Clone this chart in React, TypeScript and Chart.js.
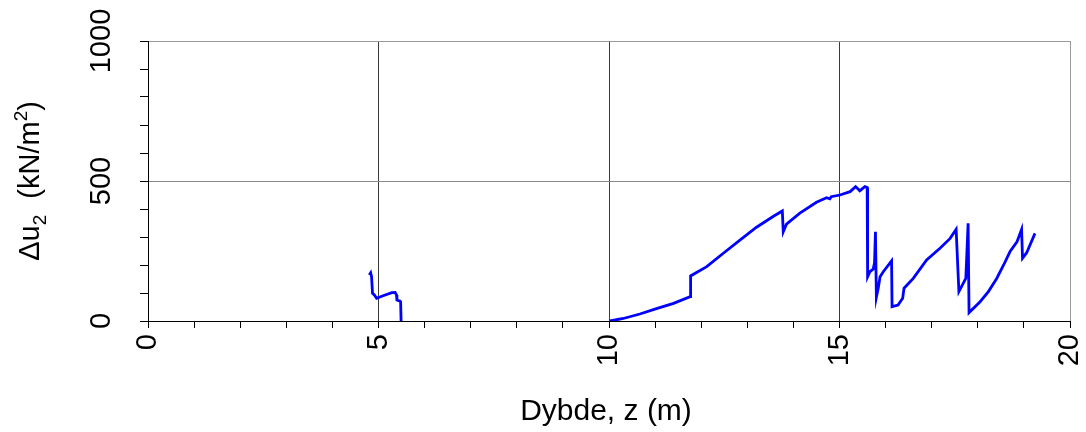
import { useEffect, useRef } from 'react';
import { Chart, registerables } from 'chart.js';

Chart.register(...registerables);

// Depth (m) and excess pore pressure Δu2 (kN/m²), first layer
const depthA = [4.80, 4.83, 4.85, 4.87, 4.91, 4.96, 5.10, 5.29, 5.36, 5.39, 5.40, 5.47, 5.48, 5.49];
const duA = [164, 172, 158, 99, 93, 81, 90, 101, 102, 93, 75, 71, 69, 0];

// Second layer
const depthB = [
  10.02, 10.31, 10.67, 11.03, 11.40, 11.76, 11.77, 12.12, 12.48, 12.84, 13.20, 13.56, 13.76, 13.78,
  13.85, 14.14, 14.50, 14.72, 14.79, 14.82, 15.01, 15.23, 15.35, 15.44, 15.55, 15.60, 15.61, 15.66,
  15.73, 15.76, 15.78, 15.80, 15.84, 15.88, 15.95, 16.13, 16.14, 16.27, 16.37, 16.40, 16.60, 16.89,
  17.18, 17.40, 17.53, 17.59, 17.74, 17.79, 17.81, 18.05, 18.23, 18.41, 18.56, 18.70, 18.85, 18.95,
  18.97, 19.06, 19.24,
];
const duB = [
  0, 9, 25, 44, 63, 87, 161, 194, 242, 289, 335, 373, 393, 319,
  346, 385, 424, 440, 436, 444, 450, 462, 480, 465, 480, 477, 158, 176,
  185, 208, 319, 85, 117, 158, 176, 215, 51, 57, 81, 117, 152, 218,
  260, 295, 327, 105, 152, 349, 30, 69, 105, 152, 200, 248, 283, 327,
  224, 244, 313,
];

const xMin = 0;
const xMax = 20;
const yMin = 0;
const yMax = 1000;
const xLabelStep = 5;
const yLabelStep = 500;

const xTitle = 'Dybde, z (m)';
const yTitleParts = ['Δu', '2', '  (kN/m', '2', ')'];

const FONT = '"Liberation Sans", Arial, sans-serif';

const titlesPlugin = {
  id: 'customTitles',
  afterDraw(chart: any) {
    const ctx = chart.ctx as CanvasRenderingContext2D;
    const area = chart.chartArea;
    ctx.save();
    ctx.fillStyle = '#000';
    ctx.textBaseline = 'alphabetic';
    // X title
    ctx.font = `30px ${FONT}`;
    ctx.textAlign = 'center';
    ctx.fillText(xTitle, (area.left + area.right) / 2 - 3, 420);
    // Y title (rotated), with subscript / superscript
    const big = `29px ${FONT}`;
    const small = `19px ${FONT}`;
    const specs = [
      { t: yTitleParts[0], f: big, dy: 0 },
      { t: yTitleParts[1], f: small, dy: 7 },
      { t: yTitleParts[2], f: big, dy: 0 },
      { t: yTitleParts[3], f: small, dy: -12 },
      { t: yTitleParts[4], f: big, dy: 0 },
    ];
    let total = 0;
    const widths = specs.map((s) => {
      ctx.font = s.f;
      const w = ctx.measureText(s.t).width;
      total += w;
      return w;
    });
    ctx.translate(39, (area.top + area.bottom) / 2);
    ctx.rotate(-Math.PI / 2);
    ctx.textAlign = 'left';
    let x = -total / 2;
    specs.forEach((s, i) => {
      ctx.font = s.f;
      ctx.fillText(s.t, x, s.dy);
      x += widths[i];
    });
    ctx.restore();
  },
};

const borderPlugin = {
  id: 'axisBorder',
  afterDatasetsDraw(chart: any) {
    const ctx = chart.ctx as CanvasRenderingContext2D;
    const a = chart.chartArea;
    ctx.save();
    ctx.strokeStyle = '#000';
    ctx.lineWidth = 1;
    ctx.beginPath();
    ctx.moveTo(a.left + 0.5, a.top);
    ctx.lineTo(a.left + 0.5, a.bottom + 0.5);
    ctx.lineTo(a.right, a.bottom + 0.5);
    ctx.stroke();
    ctx.restore();
  },
};

export default function App() {
  const canvasRef = useRef<HTMLCanvasElement | null>(null);

  useEffect(() => {
    if (!canvasRef.current) return;
    const dataA = depthA.map((x, i) => ({ x, y: duA[i] }));
    const dataB = depthB.map((x, i) => ({ x, y: duB[i] }));
    const lineStyle = {
      borderColor: '#0000ff',
      borderWidth: 2.8,
      pointRadius: 0,
      tension: 0,
      fill: false,
    };
    const chart = new Chart(canvasRef.current, {
      type: 'line',
      data: {
        datasets: [
          { label: 'A', data: dataA, ...lineStyle },
          { label: 'B', data: dataB, ...lineStyle },
        ],
      },
      options: {
        animation: false,
        responsive: false,
        maintainAspectRatio: false,
        layout: { padding: { top: 41, right: 16, left: 0, bottom: 0 } },
        plugins: {
          legend: { display: false },
          tooltip: { enabled: false },
          title: { display: false },
        },
        scales: {
          x: {
            type: 'linear',
            min: xMin,
            max: xMax,
            afterFit: (s: any) => {
              s.height = 111;
              s.paddingLeft = 0;
              s.paddingRight = 0;
            },
            ticks: {
              stepSize: 1,
              autoSkip: false,
              minRotation: 90,
              maxRotation: 90,
              padding: 6,
              color: '#000',
              font: { family: FONT, size: 29 },
              callback: (v: any) => (Number(v) % xLabelStep === 0 ? String(v) : ''),
            },
            grid: {
              color: (c: any) => {
                const v = c.tick ? c.tick.value : -1;
                if (v === xMax) return '#9a9a9a';
                if (v > xMin && v % xLabelStep === 0) return '#3a3a3a';
                return 'rgba(0,0,0,0)';
              },
              tickColor: '#000',
              tickLength: 7,
              lineWidth: 1,
            },
            border: { display: true, color: '#000', width: 1 },
          },
          y: {
            type: 'linear',
            min: yMin,
            max: yMax,
            afterFit: (s: any) => {
              s.width = 148;
              s.paddingTop = 0;
              s.paddingBottom = 0;
            },
            ticks: {
              stepSize: 100,
              autoSkip: false,
              minRotation: 90,
              maxRotation: 90,
              crossAlign: 'center',
              padding: 6,
              color: '#000',
              font: { family: FONT, size: 29 },
              callback: (v: any) => (Number(v) % yLabelStep === 0 ? String(v) : ''),
            },
            grid: {
              color: (c: any) => {
                const v = c.tick ? c.tick.value : -1;
                if (v === yMax) return '#9a9a9a';
                if (v > yMin && v % yLabelStep === 0) return '#8a8a8a';
                return 'rgba(0,0,0,0)';
              },
              tickColor: '#000',
              tickLength: 8,
              lineWidth: 1,
            },
            border: { display: true, color: '#000', width: 1 },
          },
        },
      },
      plugins: [titlesPlugin, borderPlugin],
    });
    return () => chart.destroy();
  }, []);

  return (
    <div style={{ position: 'absolute', left: 0, top: 0, width: 1086, height: 432, background: '#fff' }}>
      <canvas ref={canvasRef} width={1086} height={432} style={{ display: 'block', width: 1086, height: 432 }} />
    </div>
  );
}
